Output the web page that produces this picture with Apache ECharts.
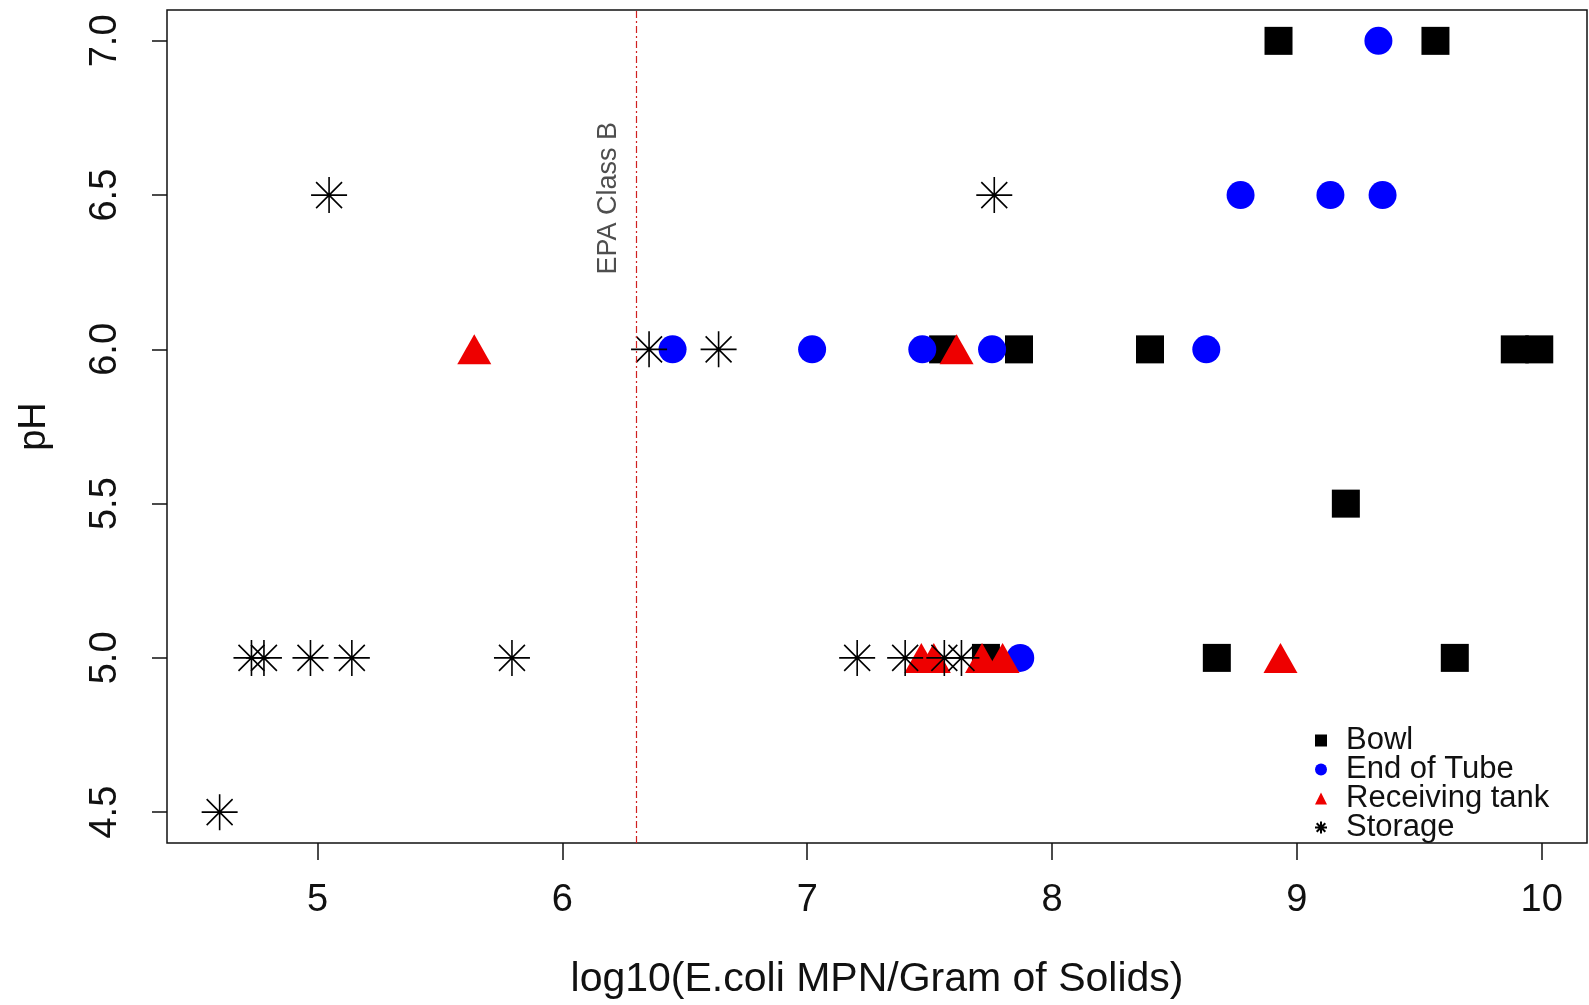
<!DOCTYPE html>
<html>
<head>
<meta charset="utf-8">
<script src="https://cdn.jsdelivr.net/npm/echarts@6/dist/echarts.min.js"></script>
<style>
  html, body { margin: 0; padding: 0; background: #fff; }
  #chart { width: 1589px; height: 1005px; }
</style>
</head>
<body>
<div id="chart"></div>
<script>
// values: [log10 E.coli MPN/g, pH]
const bowl = [
  [8.925, 7.0], [9.566, 7.0],
  [7.555, 6.0], [7.865, 6.0], [8.40, 6.0], [9.89, 6.0], [9.99, 6.0],
  [9.20, 5.5],
  [7.73, 5.0], [8.673, 5.0], [9.645, 5.0]
];
const endOfTube = [
  [9.333, 7.0],
  [8.77, 6.5], [9.137, 6.5], [9.35, 6.5],
  [6.45, 6.0], [7.02, 6.0], [7.47, 6.0], [7.755, 6.0], [8.63, 6.0],
  [7.87, 5.0]
];
const receivingTank = [
  [5.64, 6.0], [7.61, 6.0],
  [7.466, 5.0], [7.517, 5.0], [7.714, 5.0], [7.798, 5.0], [8.933, 5.0]
];
const storage = [
  [5.047, 6.5], [7.764, 6.5],
  [6.354, 6.0], [6.638, 6.0],
  [4.73, 5.0], [4.781, 5.0], [4.971, 5.0], [5.14, 5.0], [5.794, 5.0],
  [7.204, 5.0], [7.40, 5.0], [7.56, 5.0], [7.63, 5.0],
  [4.6, 4.5]
];
const xTicks = [5, 6, 7, 8, 9, 10];
const yTicks = [4.5, 5.0, 5.5, 6.0, 6.5, 7.0];
const epaClassB = 6.301;          // log10(2,000,000)
const epaLabelAt = [6.19, 6.49];

const FONT = '"Liberation Sans", Arial, sans-serif';
const asterisk = 'path://M0,-1L0,1M-1,0L1,0M-0.72,-0.72L0.72,0.72M-0.72,0.72L0.72,-0.72';

const chart = echarts.init(document.getElementById('chart'));

const option = {
  animation: false,
  backgroundColor: '#fff',
  textStyle: { fontFamily: FONT, color: '#111' },
  grid: {
    left: 167, right: 2, top: 10, bottom: 160,
    show: true, borderColor: '#111', borderWidth: 1.5, backgroundColor: 'transparent'
  },
  xAxis: {
    type: 'value',
    min: 4.385, max: 10.185,
    name: 'log10(E.coli MPN/Gram of Solids)',
    nameLocation: 'middle',
    nameGap: 116,
    nameTextStyle: { fontSize: 41, color: '#111', fontFamily: FONT },
    axisLine: { show: false },
    splitLine: { show: false },
    axisTick: {
      show: true, length: 17, inside: false,
      customValues: xTicks,
      lineStyle: { color: '#111', width: 1.5 }
    },
    axisLabel: {
      customValues: xTicks,
      fontSize: 38, color: '#111', margin: 39, fontFamily: FONT,
      formatter: (v) => String(v)
    }
  },
  yAxis: {
    type: 'value',
    min: 4.4, max: 7.1,
    name: 'pH',
    nameLocation: 'middle',
    nameGap: 113,
    nameRotate: 90,
    nameTextStyle: { fontSize: 38, color: '#111', fontFamily: FONT },
    axisLine: { show: false },
    splitLine: { show: false },
    axisTick: {
      show: true, length: 15, inside: false,
      customValues: yTicks,
      lineStyle: { color: '#111', width: 1.5 }
    },
    axisLabel: {
      customValues: yTicks,
      rotate: 90,
      fontSize: 38, color: '#111', margin: 42, fontFamily: FONT,
      formatter: (v) => v.toFixed(1)
    }
  },
  legend: {
    orient: 'vertical',
    left: 1309, top: 720,
    itemWidth: 12, itemHeight: 12,
    itemGap: -2,
    textStyle: { fontSize: 31, lineHeight: 27, color: '#111', fontFamily: FONT, padding: [0, 0, 0, 14] },
    data: ['Bowl', 'End of Tube', 'Receiving tank', 'Storage']
  },
  series: [
    {
      name: 'Bowl', type: 'scatter', symbol: 'rect', symbolSize: 28,
      itemStyle: { color: '#000', opacity: 1 },
      data: bowl,
      markLine: {
        silent: true, symbol: 'none',
        label: { show: false },
        lineStyle: { color: '#d02020', width: 1.2, type: [7, 3, 2, 3] },
        data: [{ xAxis: epaClassB }]
      }
    },
    {
      name: 'End of Tube', type: 'scatter', symbol: 'circle', symbolSize: 28,
      itemStyle: { color: '#0000ff', opacity: 1 },
      data: endOfTube
    },
    {
      name: 'Receiving tank', type: 'scatter', symbol: 'triangle', symbolSize: [34, 30],
      itemStyle: { color: '#ee0000', opacity: 1 },
      data: receivingTank
    },
    {
      name: 'Storage', type: 'scatter', symbol: asterisk, symbolSize: 36,
      itemStyle: { color: '#000', borderColor: '#000', borderWidth: 1.6, opacity: 1 },
      data: storage
    },
    {
      name: 'epa-label', type: 'scatter', symbolSize: 0, silent: true,
      data: [epaLabelAt],
      label: {
        show: true, position: 'inside', rotate: 90,
        formatter: 'EPA Class B',
        fontSize: 27, color: '#222', fontFamily: FONT
      }
    }
  ]
};

chart.setOption(option);
</script>
</body>
</html>
